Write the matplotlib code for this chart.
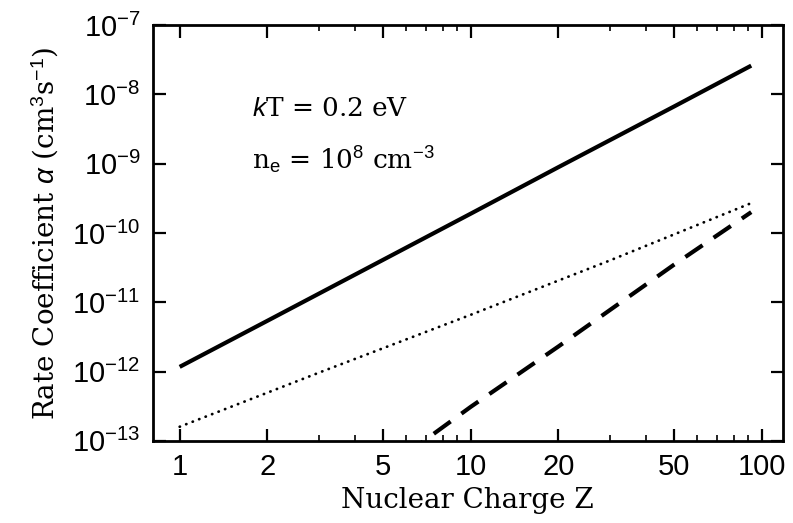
import numpy as np
import matplotlib
matplotlib.use("Agg")
from matplotlib import pyplot as plt
from matplotlib.ticker import FixedLocator, NullLocator, LogFormatterSciNotation

plt.rcParams['mathtext.fontset'] = 'custom'
plt.rcParams['mathtext.rm'] = 'Liberation Sans'
plt.rcParams['mathtext.it'] = 'Liberation Sans:italic'

# solid curve
z_solid = [1, 2, 5, 10, 20, 50, 92]
a_solid = [1.17e-12, 5.4e-12, 4.1e-11, 1.9e-10, 8.9e-10, 6.7e-9, 2.6e-8]

# dotted curve
z_dot = [1, 3, 10, 30, 92]
a_dot = [1.6e-13, 9.6e-13, 6.6e-12, 4.0e-11, 2.7e-10]

# dashed curve
z_dash = [6.0, 10, 20, 50, 92]
a_dash = [6.5e-14, 3.1e-13, 2.3e-12, 3.5e-11, 2.0e-10]

xticks = [1, 2, 5, 10, 20, 50, 100]
xtick_labels = ["1", "2", "5", "10", "20", "50", "100"]
xminor = [3, 4, 6, 7, 8, 9, 30, 40, 60, 70, 80, 90]

fig = plt.figure(figsize=(7.93, 5.23), dpi=100)
ax = fig.add_axes([0.193, 0.157, 0.794, 0.795])

ax.plot(z_solid, a_solid, color='black', lw=3.0, solid_capstyle='butt')
ax.plot(z_dot, a_dot, color='black', lw=2.0, linestyle=(0, (0.1, 2.4)),
        dash_capstyle='round')
ax.plot(z_dash, a_dash, color='black', lw=3.0, linestyle=(0, (5, 3.2)))

ax.set_xscale('log')
ax.set_yscale('log')
ax.set_xlim(0.81, 118)
ax.set_ylim(1e-13, 1e-7)

ax.xaxis.set_major_locator(FixedLocator(xticks))
ax.set_xticklabels(xtick_labels)
ax.xaxis.set_minor_locator(FixedLocator(xminor))
ax.xaxis.set_minor_formatter(matplotlib.ticker.NullFormatter())
ax.yaxis.set_major_locator(FixedLocator([10.0**k for k in range(-13, -6)]))
ax.yaxis.set_major_formatter(LogFormatterSciNotation())
ax.yaxis.set_minor_locator(NullLocator())

ax.tick_params(which='major', direction='in', length=9, width=1.6,
               top=True, right=True, labelsize=21, pad=9)
ax.tick_params(which='minor', direction='in', length=4.5, width=1.2,
               top=True, right=True)
for lab in ax.get_xticklabels() + ax.get_yticklabels():
    lab.set_family('Liberation Sans')
for s in ax.spines.values():
    s.set_linewidth(2.0)

ax.set_xlabel("Nuclear Charge Z", family='DejaVu Serif', fontsize=20, labelpad=4)
ax.set_ylabel(r"Rate Coefficient $\alpha$ (cm$^3$s$^{-1}$)", family='DejaVu Serif',
              fontsize=20, labelpad=8)

ax.text(0.157, 0.80, r"$k$T = 0.2 eV", transform=ax.transAxes,
        family='DejaVu Serif', fontsize=19, va='center')
ax.text(0.157, 0.675, r"n$_\mathrm{e}$ = 10$^8$ cm$^{-3}$", transform=ax.transAxes,
        family='DejaVu Serif', fontsize=19, va='center')

fig.savefig("out.png", dpi=100)
